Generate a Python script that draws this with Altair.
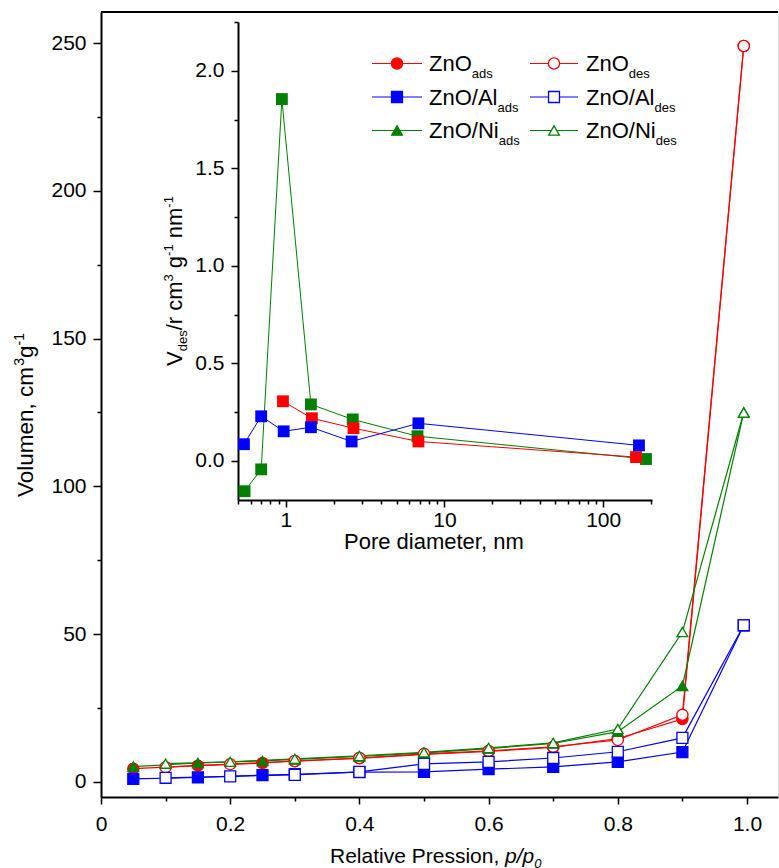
import altair as alt
import pandas as pd

# ---------------- isotherms: relative pressure p/p0 -> adsorbed volume (cm3/g)
samples = ["ZnO", "ZnO/Al", "ZnO/Ni"]
colors = ["#ff0000", "#0000ff", "#008000"]
shapes = ["circle", "square", "triangle-up"]

p_ads = [0.05, 0.15, 0.25, 0.3, 0.4, 0.5, 0.6, 0.7, 0.8, 0.9, 0.995]
p_des = [0.1, 0.2, 0.3, 0.4, 0.5, 0.6, 0.7, 0.8, 0.9, 0.995]

v_zno_ads = [4.5, 5.5, 6.4, 7.0, 8.0, 9.3, 10.3, 11.7, 14.7, 21.3, 249.0]
v_zno_des = [5.0, 6.0, 7.1, 8.1, 9.5, 10.5, 11.9, 14.2, 22.7, 249.0]
v_al_ads = [1.0, 1.5, 2.3, 2.6, 3.3, 3.4, 4.3, 5.1, 6.8, 10.1, 53.0]
v_al_des = [1.4, 1.9, 2.4, 3.4, 6.1, 6.8, 8.1, 10.2, 14.9, 53.0]
v_ni_ads = [5.2, 6.4, 7.1, 7.6, 8.6, 9.8, 11.3, 13.0, 17.0, 32.5, 125.0]
v_ni_des = [6.2, 6.8, 7.8, 8.8, 10.0, 11.5, 13.2, 17.9, 50.7, 125.0]

# ---------------- pore size distribution (inset): diameter (nm) -> dV/dr
d_ni = [0.55, 0.70, 0.945, 1.44, 2.64, 6.76, 186.0]
psd_ni = [-0.155, -0.043, 1.855, 0.29, 0.213, 0.127, 0.01]
d_zno = [0.96, 1.46, 2.67, 6.85, 161.0]
psd_zno = [0.306, 0.219, 0.168, 0.10, 0.02]
d_al = [0.545, 0.70, 0.97, 1.44, 2.6, 6.85, 168.0]
psd_al = [0.086, 0.229, 0.152, 0.173, 0.10, 0.193, 0.08]

# tick positions
x_ticks = [round(i * 0.1, 1) for i in range(11)]
y_ticks = [i * 25 for i in range(11)]
ix_ticks = [0.5, 0.6, 0.7, 0.8, 0.9, 1, 2, 3, 4, 5, 6, 7, 8, 9, 10,
            20, 30, 40, 50, 60, 70, 80, 90, 100, 200]
iy_ticks = [i * 0.25 for i in range(10)]

FONT = "Liberation Sans"
W_PLOT, H_PLOT = 677, 785
OX, OY = 101, 12  # top-left corner of the plot area on the page

# ---------------- tables
iso_rows = []
for s, (pa, va), (pd_, vd) in zip(
    samples,
    [(p_ads, v_zno_ads), (p_ads, v_al_ads), (p_ads, v_ni_ads)],
    [(p_des, v_zno_des), (p_des, v_al_des), (p_des, v_ni_des)],
):
    iso_rows += [dict(sample=s, branch="ads", p=p, v=v) for p, v in zip(pa, va)]
    iso_rows += [dict(sample=s, branch="des", p=p, v=v) for p, v in zip(pd_, vd)]
iso = pd.DataFrame(iso_rows)

psd_rows = []
for s, ds, vs in [("ZnO/Ni", d_ni, psd_ni), ("ZnO", d_zno, psd_zno), ("ZnO/Al", d_al, psd_al)]:
    psd_rows += [dict(sample=s, d=d, v=v) for d, v in zip(ds, vs)]
psd = pd.DataFrame(psd_rows)

# ---------------- Arial / Liberation Sans advance widths (1/1000 em)
WID = {" ": 278, ",": 278, "/": 278, ".": 278, "-": 333,
       "A": 667, "N": 722, "O": 778, "P": 667, "R": 722, "V": 667, "Z": 611,
       "a": 556, "c": 500, "d": 556, "e": 556, "g": 556, "i": 222, "l": 222,
       "m": 833, "n": 556, "o": 556, "p": 556, "r": 333, "s": 500, "t": 278,
       "u": 556, "v": 500}


def text_width(s, size):
    return sum(WID.get(c, 556) for c in s) * size / 1000.0


def run(x0, y0, parts, angle=0):
    """Lay out a rich-text run (sub/superscripts) as separate text pieces."""
    rows, adv = [], 0.0
    for txt, size, shift, italic in parts:
        lead = len(txt) - len(txt.lstrip(" "))
        adv += text_width(" " * lead, size)
        body = txt.strip(" ")
        if angle == 0:
            x, y = x0 + adv, y0 + shift
        else:
            x, y = x0 + shift, y0 - adv
        rows.append(dict(x=x - OX, y=y - OY, t=body, size=size, angle=angle, italic=italic))
        adv += text_width(txt.lstrip(" "), size)
    return rows


F, SUB = 22, 13
pieces = []
pieces += run(33, 497, [("Volumen, cm", 22.5, 0, False), ("3", 14, -9, False),
                        ("g", 22.5, 0, False), ("-1", 14, -9, False)], angle=270)
pieces += run(330, 863, [("Relative Pression, ", 21, 0, False), ("p/p", 21, 0, True),
                         ("0", SUB, 5, True)])
pieces += run(344, 549, [("Pore diameter, nm", F, 0, False)])
pieces += run(182, 366, [("V", F, 0, False), ("des", SUB, 5, False), ("/r cm", F, 0, False),
                         ("3", SUB, -9, False), (" g", F, 0, False), ("-1", SUB, -9, False),
                         (" nm", F, 0, False), ("-1", SUB, -9, False)], angle=270)

# legend layout (two columns: adsorption / desorption)
leg_rows = []
col_line = [(372, 422), (530, 578)]
col_mark = [397, 554]
col_text = [429, 586]
for r, s in enumerate(samples):
    yc = 63.5 + 33.5 * r
    for c, b in enumerate(["ads", "des"]):
        leg_rows.append(dict(sample=s, branch=b, x1=col_line[c][0] - OX, x2=col_line[c][1] - OX,
                             xm=col_mark[c] - OX, y=yc - OY))
        pieces += run(col_text[c], yc + 7.7, [(s, F, 0, False), (b, SUB, 7, False)])
legend_df = pd.DataFrame(leg_rows)
text_df = pd.DataFrame(pieces)

# ---------------- scales
cs = alt.Scale(domain=samples, range=colors)
shs = alt.Scale(domain=samples, range=shapes)
szs = alt.Scale(domain=samples, range=[125, 115, 165])

xs = alt.Scale(domain=[0, 1.048], nice=False, zero=False)
ys = alt.Scale(domain=[-5.1, 260.5], nice=False, zero=False)
ixs = alt.Scale(type="log", domain=[0.5, 203], range=[137, 551], nice=False)
iys = alt.Scale(domain=[-0.2, 2.25], range=[488, 10], nice=False, zero=False)

common_axis = dict(grid=False, domainColor="black", tickColor="black", labelColor="black",
                   labelFont=FONT, labelFontSize=21, domainWidth=2, tickWidth=1.5,
                   labelOverlap=False, labelFlush=False, labelBound=False, title=None)


def tick_len(test, major, minor):
    return {"condition": {"test": test, "value": major}, "value": minor}


x_axis = alt.Axis(orient="bottom", values=x_ticks, labelPadding=9,
                  labelExpr="abs(datum.value*5 - round(datum.value*5)) < 0.001 ? "
                            "(datum.value == 0 ? '0' : format(datum.value, '.1f')) : ''",
                  tickSize=tick_len("abs(datum.value*5 - round(datum.value*5)) < 0.001", 7, 4),
                  **common_axis)
y_axis = alt.Axis(orient="left", values=y_ticks, labelPadding=7,
                  labelExpr="datum.value % 50 == 0 ? format(datum.value, 'd') : ''",
                  tickSize=tick_len("datum.value % 50 == 0", 8, 4),
                  **common_axis)
ix_axis = alt.Axis(orient="bottom", offset=-297, values=ix_ticks, labelPadding=2,
                   labelExpr="(datum.value == 1 || datum.value == 10 || datum.value == 100) ? "
                             "format(datum.value, 'd') : ''",
                   tickSize=tick_len("datum.value == 1 || datum.value == 10 || datum.value == 100", 7, 4),
                   **common_axis)
iy_axis = alt.Axis(orient="left", offset=-137, values=iy_ticks, labelPadding=7,
                   labelExpr="abs(datum.value*2 - round(datum.value*2)) < 0.001 ? "
                             "format(datum.value, '.1f') : ''",
                   tickSize=tick_len("abs(datum.value*2 - round(datum.value*2)) < 0.001", 7, 4),
                   **common_axis)

fill_enc = alt.condition("datum.branch === 'ads'",
                         alt.Fill("sample:N", scale=cs, legend=None), alt.value("white"))

# ---------------- main isotherm plot
iso_base = alt.Chart(iso)
iso_lines = iso_base.mark_line(strokeWidth=1.2).encode(
    x=alt.X("p:Q", scale=xs, axis=x_axis),
    y=alt.Y("v:Q", scale=ys, axis=y_axis),
    color=alt.Color("sample:N", scale=cs, legend=None),
    detail="branch:N",
)
iso_pts = iso_base.mark_point(filled=True, opacity=1, fillOpacity=1, strokeWidth=1.3).encode(
    x="p:Q", y="v:Q",
    shape=alt.Shape("sample:N", scale=shs, legend=None),
    size=alt.Size("sample:N", scale=szs, legend=None),
    stroke=alt.Stroke("sample:N", scale=cs, legend=None),
    fill=fill_enc,
)
main = alt.layer(iso_lines, iso_pts)

# ---------------- inset: pore size distribution
psd_base = alt.Chart(psd)
psd_lines = psd_base.mark_line(strokeWidth=1).encode(
    x=alt.X("d:Q", scale=ixs, axis=ix_axis),
    y=alt.Y("v:Q", scale=iys, axis=iy_axis),
    color=alt.Color("sample:N", scale=cs, legend=None),
    order="d:Q",
)
psd_pts = psd_base.mark_square(size=140, opacity=1).encode(
    x="d:Q", y="v:Q",
    color=alt.Color("sample:N", scale=cs, legend=None),
)
inset = alt.layer(psd_lines, psd_pts)

# ---------------- frame, legend and rich-text labels
frame = alt.Chart(pd.DataFrame({"k": [0]})).mark_rule(color="black", strokeWidth=2).encode(
    x=alt.value(0), x2=alt.value(W_PLOT), y=alt.value(0)
)
leg_base = alt.Chart(legend_df)
leg_lines = leg_base.mark_rule(strokeWidth=1.2).encode(
    x=alt.X("x1:Q", scale=None), x2="x2:Q", y=alt.Y("y:Q", scale=None),
    color=alt.Color("sample:N", scale=cs, legend=None),
)
leg_pts = leg_base.mark_point(filled=True, opacity=1, fillOpacity=1, strokeWidth=1.3).encode(
    x=alt.X("xm:Q", scale=None), y=alt.Y("y:Q", scale=None),
    shape=alt.Shape("sample:N", scale=shs, legend=None),
    size=alt.Size("sample:N", scale=szs, legend=None),
    stroke=alt.Stroke("sample:N", scale=cs, legend=None),
    fill=fill_enc,
)
txt_base = alt.Chart(text_df)
txt_enc = dict(
    x=alt.X("x:Q", scale=None), y=alt.Y("y:Q", scale=None), text="t:N",
    size=alt.Size("size:Q", scale=None), angle=alt.Angle("angle:Q", scale=None),
)
txt_plain = txt_base.transform_filter("!datum.italic").mark_text(
    align="left", baseline="alphabetic", font=FONT, color="black").encode(**txt_enc)
txt_ital = txt_base.transform_filter("datum.italic").mark_text(
    align="left", baseline="alphabetic", font=FONT, fontStyle="italic", color="black").encode(**txt_enc)
deco = alt.layer(frame, leg_lines, leg_pts, txt_plain, txt_ital)

chart = (
    alt.layer(main, inset, deco)
    .resolve_scale(x="independent", y="independent")
    .properties(width=W_PLOT, height=H_PLOT,
                autosize=alt.AutoSizeParams(type="none"),
                padding={"left": OX, "top": OY, "right": 1, "bottom": 71})
    .configure_view(stroke=None)
    .configure(background="white")
)

chart.save("out.html", embed_options={"renderer": "svg", "actions": False})
